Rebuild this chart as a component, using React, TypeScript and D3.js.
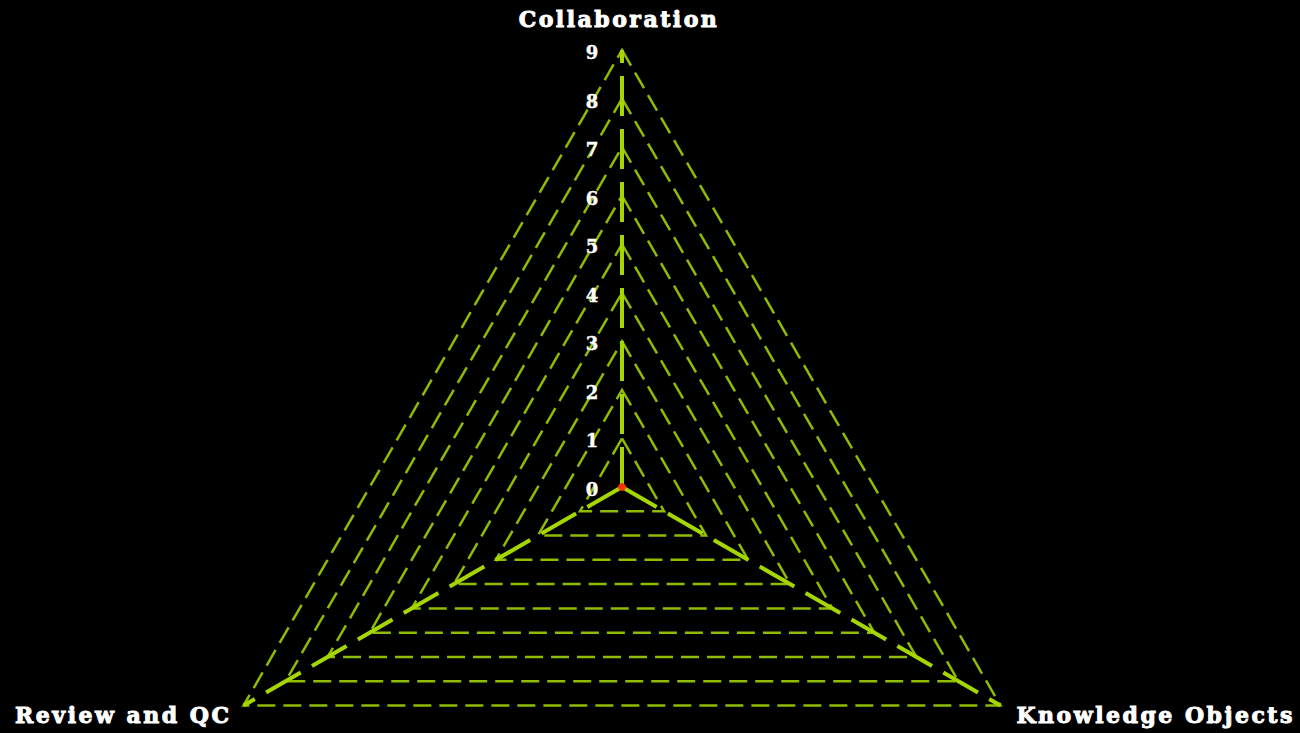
import * as d3 from "d3";
import { useEffect, useRef } from "react";

// 轴名称与数值（图中数据点全部落在中心）
const axes = ["Collaboration", "Knowledge Objects", "Review and QC"];
const values = [0, 0, 0];
const levels = [0, 1, 2, 3, 4, 5, 6, 7, 8, 9];

export default function App() {
  const ref = useRef<SVGSVGElement | null>(null);

  useEffect(() => {
    const width = 1300;
    const height = 733;
    const cx = 622;
    const cy = 487;
    const radius = 437;
    const maxValue = d3.max(levels) as number;

    document.body.style.margin = "0";
    document.body.style.background = "#000";

    const svg = d3.select(ref.current);
    svg.selectAll("*").remove();
    svg
      .attr("width", width)
      .attr("height", height)
      .attr("viewBox", [0, 0, width, height].join(" "))
      .style("display", "block")
      .style("background", "#000");

    const r = d3.scaleLinear().domain([0, maxValue]).range([0, radius]);
    // 第一根轴朝上，顺时针排列
    const angle = (i: number) => (i * 2 * Math.PI) / axes.length - Math.PI / 2;
    const point = (i: number, v: number): [number, number] => [
      cx + r(v) * Math.cos(angle(i)),
      cy + r(v) * Math.sin(angle(i)),
    ];

    const g = svg.append("g");

    // 网格三角形（虚线）
    const lineGen = d3.line<[number, number]>();
    g.append("g")
      .selectAll("path")
      .data(levels.filter((l) => l > 0))
      .join("path")
      .attr("d", (l) => lineGen(axes.map((_, i) => point(i, l))) + "Z")
      .attr("fill", "none")
      .attr("stroke", "#8fbb00")
      .attr("stroke-width", 2.5)
      .attr("stroke-dasharray", "18,8");

    // 轴线
    g.append("g")
      .selectAll("line")
      .data(axes)
      .join("line")
      .attr("x1", cx)
      .attr("y1", cy)
      .attr("x2", (_, i) => point(i, maxValue)[0])
      .attr("y2", (_, i) => point(i, maxValue)[1])
      .attr("stroke", "#a6d600")
      .attr("stroke-width", 4)
      .attr("stroke-dasharray", "40,13");

    // 刻度数字
    g.append("g")
      .selectAll("text")
      .data(levels)
      .join("text")
      .attr("x", cx - 30)
      .attr("y", (l) => cy - r(l) + 9)
      .attr("text-anchor", "middle")
      .attr("fill", "#fff")
      .attr("stroke", "#fff")
      .attr("stroke-width", 0.4)
      .style("font-family", "'DejaVu Serif', serif")
      .style("font-weight", "bold")
      .style("font-size", "18px")
      .text((l) => l);

    // 轴标签
    const labelPos = [
      { dx: -3, dy: -460, anchor: "middle" },
      { dx: 16, dy: 17, anchor: "start" },
      { dx: -12, dy: 17, anchor: "end" },
    ];
    g.append("g")
      .selectAll("text")
      .data(axes)
      .join("text")
      .attr("x", (_, i) => (i === 0 ? cx : point(i, maxValue)[0]) + labelPos[i].dx)
      .attr("y", (_, i) => (i === 0 ? cy : point(i, maxValue)[1]) + labelPos[i].dy)
      .attr("text-anchor", (_, i) => labelPos[i].anchor)
      .attr("fill", "#fff")
      .attr("stroke", "#fff")
      .attr("stroke-width", 1)
      .style("font-family", "'DejaVu Serif', serif")
      .style("font-weight", "bold")
      .style("font-size", "22px")
      .style("letter-spacing", "2.5px")
      .text((d) => d);

    // 数据多边形与数据点
    const pts = values.map((v, i) => point(i, v));
    g.append("path")
      .attr("d", lineGen(pts) + "Z")
      .attr("fill", "#ff3300")
      .attr("fill-opacity", 0.5)
      .attr("stroke", "#ff3300")
      .attr("stroke-width", 2);
    g.append("g")
      .selectAll("circle")
      .data(pts)
      .join("circle")
      .attr("cx", (d) => d[0])
      .attr("cy", (d) => d[1])
      .attr("r", 3.5)
      .attr("fill", "#ff3300");
  }, []);

  return <svg ref={ref}></svg>;
}
